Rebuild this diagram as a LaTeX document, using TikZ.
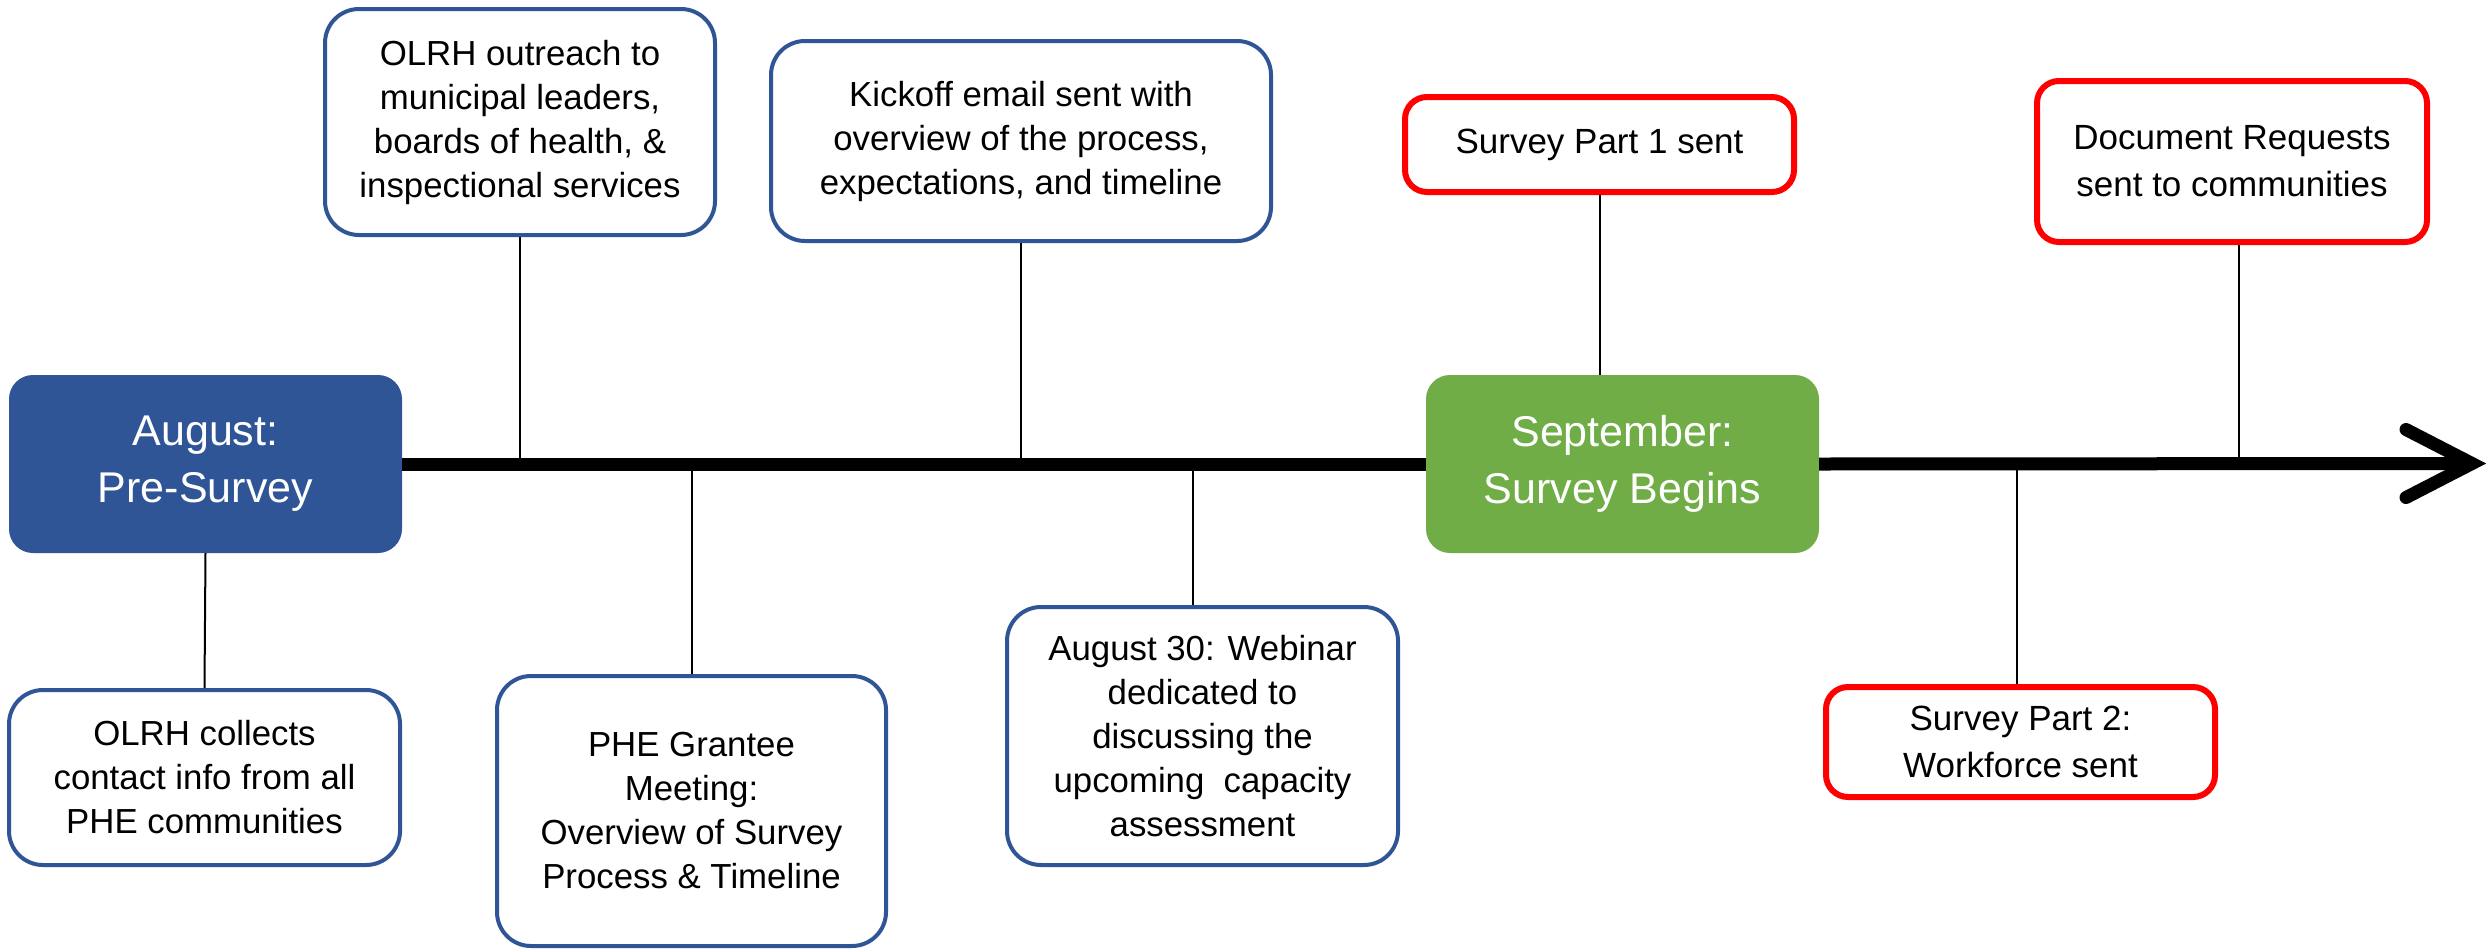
\documentclass[tikz,border=0pt]{standalone}
\usepackage{fontspec}
\setmainfont{Liberation Sans}
\definecolor{navy}{HTML}{2F5597}
\definecolor{leaf}{HTML}{70AD47}
\definecolor{alert}{HTML}{FF0000}
\tikzset{
  phase/.style={rounded corners=24pt, text=white, align=center, inner sep=0pt,
    font=\fontsize{43}{57}\selectfont, minimum width=393pt, minimum height=178pt},
  bluebox/.style={draw=navy, line width=4pt, fill=white, rounded corners=34pt, align=center,
    inner sep=0pt, font=\fontsize{34.8}{44}\selectfont},
  redbox/.style={draw=alert, line width=6pt, fill=white, rounded corners=22pt, align=center,
    inner sep=0pt, font=\fontsize{35}{47}\selectfont},
  tick/.style={line width=2pt, black},
  axis/.style={line width=13pt, black}
}
\begin{document}
\begin{tikzpicture}[x=1pt,y=-1pt]
\useasboundingbox (0,0) rectangle (2487,951);
% phase boxes
\node[phase, fill=navy] (aug) at (205.5,464) {August:\\Pre-Survey};
\node[phase, fill=leaf] (sep) at (1622.5,464) {September:\\Survey Begins};
\coordinate (tip) at (2472,463.5);
% top boxes
\node[bluebox, minimum width=390pt, minimum height=226pt] (n1) at (520,122) {OLRH outreach to\\municipal leaders,\\boards of health, \&\\inspectional services};
\node[bluebox, minimum width=500pt, minimum height=200pt] (n2) at (1021,141) {Kickoff email sent with\\overview of the process,\\expectations, and timeline};
\node[redbox, minimum width=389pt, minimum height=95pt] (n3) at (1599.5,144.5) {Survey Part 1 sent};
\node[redbox, minimum width=390pt, minimum height=161pt] (n4) at (2232,161.5) {Document Requests\\sent to communities};
% bottom boxes
\node[bluebox, minimum width=391pt, minimum height=175pt] (b1) at (204.5,777.5) {OLRH collects\\contact info from all\\PHE communities};
\node[bluebox, minimum width=389pt, minimum height=270pt] (b2) at (691.5,811) {PHE Grantee\\Meeting:\\Overview of Survey\\Process \& Timeline};
\node[bluebox, minimum width=391pt, minimum height=258pt] (b3) at (1202.5,736) {August 30: Webinar\\dedicated to\\discussing the\\upcoming\ \ capacity\\assessment};
\node[redbox, minimum width=389pt, minimum height=110pt] (b4) at (2020.5,742) {Survey Part 2:\\Workforce sent};
% timeline
\draw[axis] (aug.east) -- (sep.west);
\draw[axis] (sep.east) -- (tip);
\draw[line width=13pt, line cap=round, line join=miter] ([xshift=-66pt,yshift=-34pt]tip) -- (tip) -- ([xshift=-66pt,yshift=34pt]tip);
% ticks
\draw[tick] (n1.south) -- (n1.south |- tip);
\draw[tick] (n2.south) -- (n2.south |- tip);
\draw[tick] (n3.south) -- (n3.south |- sep.north);
\draw[tick] ([xshift=7pt]n4.south) -- ([xshift=7pt]n4.south |- tip);
\draw[tick] (aug.south) -- (b1.north);
\draw[tick] (b2.north) -- (b2.north |- tip);
\draw[tick] ([xshift=-9.5pt]b3.north) -- ([xshift=-9.5pt]b3.north |- tip);
\draw[tick] ([xshift=-3.5pt]b4.north) -- ([xshift=-3.5pt]b4.north |- tip);
\end{tikzpicture}
\end{document}
